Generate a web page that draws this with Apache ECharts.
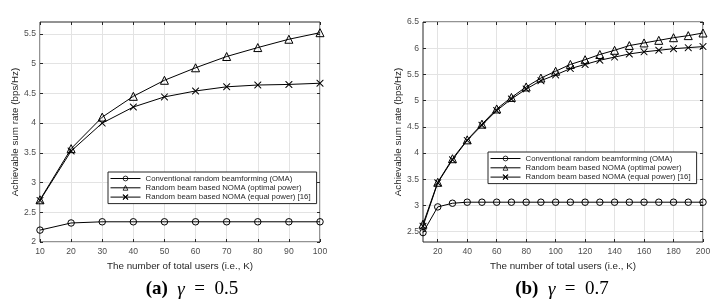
<!DOCTYPE html>
<html>
<head>
<meta charset="utf-8">
<script src="https://cdn.jsdelivr.net/npm/echarts@6/dist/echarts.min.js"></script>
<style>
  html, body { margin: 0; padding: 0; background: #fff; }
  #chart { width: 720px; height: 308px; }
</style>
</head>
<body>
<div id="chart"></div>
<script>
// (a) gamma = 0.5
var usersA = [10, 20, 30, 40, 50, 60, 70, 80, 90, 100];
var omaA = [2.2, 2.32, 2.34, 2.34, 2.34, 2.34, 2.34, 2.34, 2.34, 2.34];
var optA = [2.71, 3.57, 4.1, 4.45, 4.72, 4.93, 5.12, 5.27, 5.41, 5.52];
var eqA = [2.7, 3.53, 4.0, 4.27, 4.44, 4.54, 4.61, 4.64, 4.65, 4.67];

// (b) gamma = 0.7
var usersB = [10, 20, 30, 40, 50, 60, 70, 80, 90, 100, 110, 120, 130, 140, 150, 160, 170, 180, 190, 200];
var omaB = [2.48, 2.97, 3.04, 3.06, 3.06, 3.06, 3.06, 3.06, 3.06, 3.06, 3.06, 3.06, 3.06, 3.06, 3.06, 3.06, 3.06, 3.06, 3.06, 3.06];
var optB = [2.64, 3.44, 3.89, 4.25, 4.55, 4.84, 5.06, 5.26, 5.43, 5.56, 5.69, 5.78, 5.88, 5.96, 6.05, 6.1, 6.15, 6.2, 6.24, 6.29];
var eqB = [2.6, 3.43, 3.87, 4.24, 4.53, 4.81, 5.03, 5.22, 5.38, 5.49, 5.61, 5.69, 5.77, 5.83, 5.89, 5.93, 5.96, 5.99, 6.01, 6.03];

var xTicksA = [10, 20, 30, 40, 50, 60, 70, 80, 90, 100];
var yTicksA = [2, 2.5, 3, 3.5, 4, 4.5, 5, 5.5];
var xTicksB = [20, 40, 60, 80, 100, 120, 140, 160, 180, 200];
var yTicksB = [2.5, 3, 3.5, 4, 4.5, 5, 5.5, 6, 6.5];

var names = [
    'Conventional random beamforming (OMA)',
    'Random beam based NOMA (optimal power)',
    'Random beam based NOMA (equal power) [16]'
];

var crossPath = 'path://M0,0L1,0L5,4L9,0L10,0L10,1L6,5L10,9L10,10L9,10L5,6L1,10L0,10L0,9L4,5L0,1Z';
var symbols = ['circle', 'triangle', crossPath];
var sizes = [6.5, 8, 7];

var pair = function (xs, ys) {
    return xs.map(function (x, i) { return [x, ys[i]]; });
};

var makeSeries = function (idx, k, xs, ys) {
    var isCross = idx === 2;
    return {
        name: names[idx],
        type: 'line',
        xAxisIndex: k,
        yAxisIndex: k,
        data: pair(xs, ys),
        symbol: symbols[idx],
        symbolSize: sizes[idx],
        showAllSymbol: true,
        lineStyle: { color: '#000', width: 1 },
        itemStyle: {
            color: isCross ? '#000' : 'rgba(255,255,255,0)',
            borderColor: '#000',
            borderWidth: isCross ? 0 : 1
        },
        emphasis: { disabled: true },
        z: 3 + idx
    };
};

var fontSans = 'Liberation Sans';

var xAxisBase = function (k, min, max, ticks) {
    return {
        type: 'value',
        gridIndex: k,
        min: min,
        max: max,
        name: 'The number of total users (i.e., K)',
        nameLocation: 'middle',
        nameGap: 16,
        nameTextStyle: { fontFamily: fontSans, fontSize: 9.8, color: '#262626' },
        axisLine: { show: false },
        axisTick: { inside: true, length: 3, customValues: ticks, lineStyle: { color: '#262626' } },
        axisLabel: { customValues: ticks, fontFamily: fontSans, fontSize: 8.6, color: '#4d4d4d', margin: 5 },
        splitLine: { show: true, lineStyle: { color: '#e3e3e3', width: 1 } }
    };
};

var yAxisBase = function (k, min, max, ticks, gap) {
    return {
        type: 'value',
        gridIndex: k,
        min: min,
        max: max,
        name: 'Achievable sum rate (bps/Hz)',
        nameLocation: 'middle',
        nameGap: gap,
        nameTextStyle: { fontFamily: fontSans, fontSize: 9.8, color: '#262626' },
        axisLine: { show: false },
        axisTick: { inside: true, length: 3, customValues: ticks, lineStyle: { color: '#262626' } },
        axisLabel: { customValues: ticks, fontFamily: fontSans, fontSize: 8.6, color: '#4d4d4d', margin: 4 },
        splitLine: { show: true, lineStyle: { color: '#e3e3e3', width: 1 } }
    };
};

// mirrored tick marks on the top / right edges of the box
var mirrorAxis = function (k, min, max, ticks, pos) {
    return {
        type: 'value',
        gridIndex: k,
        position: pos,
        min: min,
        max: max,
        axisLine: { show: false },
        axisTick: { inside: true, length: 3, customValues: ticks, lineStyle: { color: '#262626' } },
        axisLabel: { show: false, customValues: ticks },
        splitLine: { show: false }
    };
};

var legendBase = function (left, top) {
    return {
        orient: 'vertical',
        left: left,
        top: top,
        data: names,
        itemWidth: 30,
        itemHeight: 6,
        itemGap: 0.3,
        padding: [2, 6, 2, 2],
        backgroundColor: '#fff',
        borderColor: '#262626',
        borderWidth: 1,
        borderRadius: 0,
        selectedMode: false,
        itemStyle: { borderWidth: 0.8 },
        lineStyle: { width: 1 },
        textStyle: { fontFamily: fontSans, fontSize: 7.8, lineHeight: 9, color: '#262626' },
        z: 10
    };
};

var captionStyle = {
    b: { fontFamily: 'Liberation Serif', fontWeight: 'bold', fontSize: 19, color: '#000' },
    i: { fontFamily: 'Liberation Serif', fontStyle: 'italic', fontWeight: 'normal', fontSize: 19, color: '#000' },
    n: { fontFamily: 'Liberation Serif', fontWeight: 'normal', fontSize: 19, color: '#000' }
};

var chart = echarts.init(document.getElementById('chart'), null, { renderer: 'canvas' });

var option = {
    animation: false,
    backgroundColor: '#fff',
    title: [
        {
            text: '{b|(a)}{n|  }{i|γ}{n|  =  0.5}',
            left: 187,
            top: 275,
            textAlign: 'center',
            textStyle: { fontWeight: 'normal', fontFamily: 'Liberation Serif', fontSize: 19, rich: captionStyle }
        },
        {
            text: '{b|(b)}{n|  }{i|γ}{n|  =  0.7}',
            left: 557,
            top: 275,
            textAlign: 'center',
            textStyle: { fontWeight: 'normal', fontFamily: 'Liberation Serif', fontSize: 19, rich: captionStyle }
        }
    ],
    grid: [
        { left: 40, top: 22, width: 280, height: 220, show: true, borderColor: '#262626', borderWidth: 1, backgroundColor: '#fff' },
        { left: 423, top: 22, width: 280, height: 220, show: true, borderColor: '#262626', borderWidth: 1, backgroundColor: '#fff' }
    ],
    xAxis: [
        xAxisBase(0, 10, 100, xTicksA),
        xAxisBase(1, 10, 200, xTicksB),
        mirrorAxis(0, 10, 100, xTicksA, 'top'),
        mirrorAxis(1, 10, 200, xTicksB, 'top')
    ],
    yAxis: [
        yAxisBase(0, 2, 5.7, yTicksA, 18),
        yAxisBase(1, 2.3, 6.5, yTicksB, 18),
        mirrorAxis(0, 2, 5.7, yTicksA, 'right'),
        mirrorAxis(1, 2.3, 6.5, yTicksB, 'right')
    ],
    legend: [
        legendBase(108, 172),
        legendBase(488, 152)
    ],
    series: [
        makeSeries(0, 0, usersA, omaA),
        makeSeries(1, 0, usersA, optA),
        makeSeries(2, 0, usersA, eqA),
        makeSeries(0, 1, usersB, omaB),
        makeSeries(1, 1, usersB, optB),
        makeSeries(2, 1, usersB, eqB)
    ]
};

chart.setOption(option);
</script>
</body>
</html>
